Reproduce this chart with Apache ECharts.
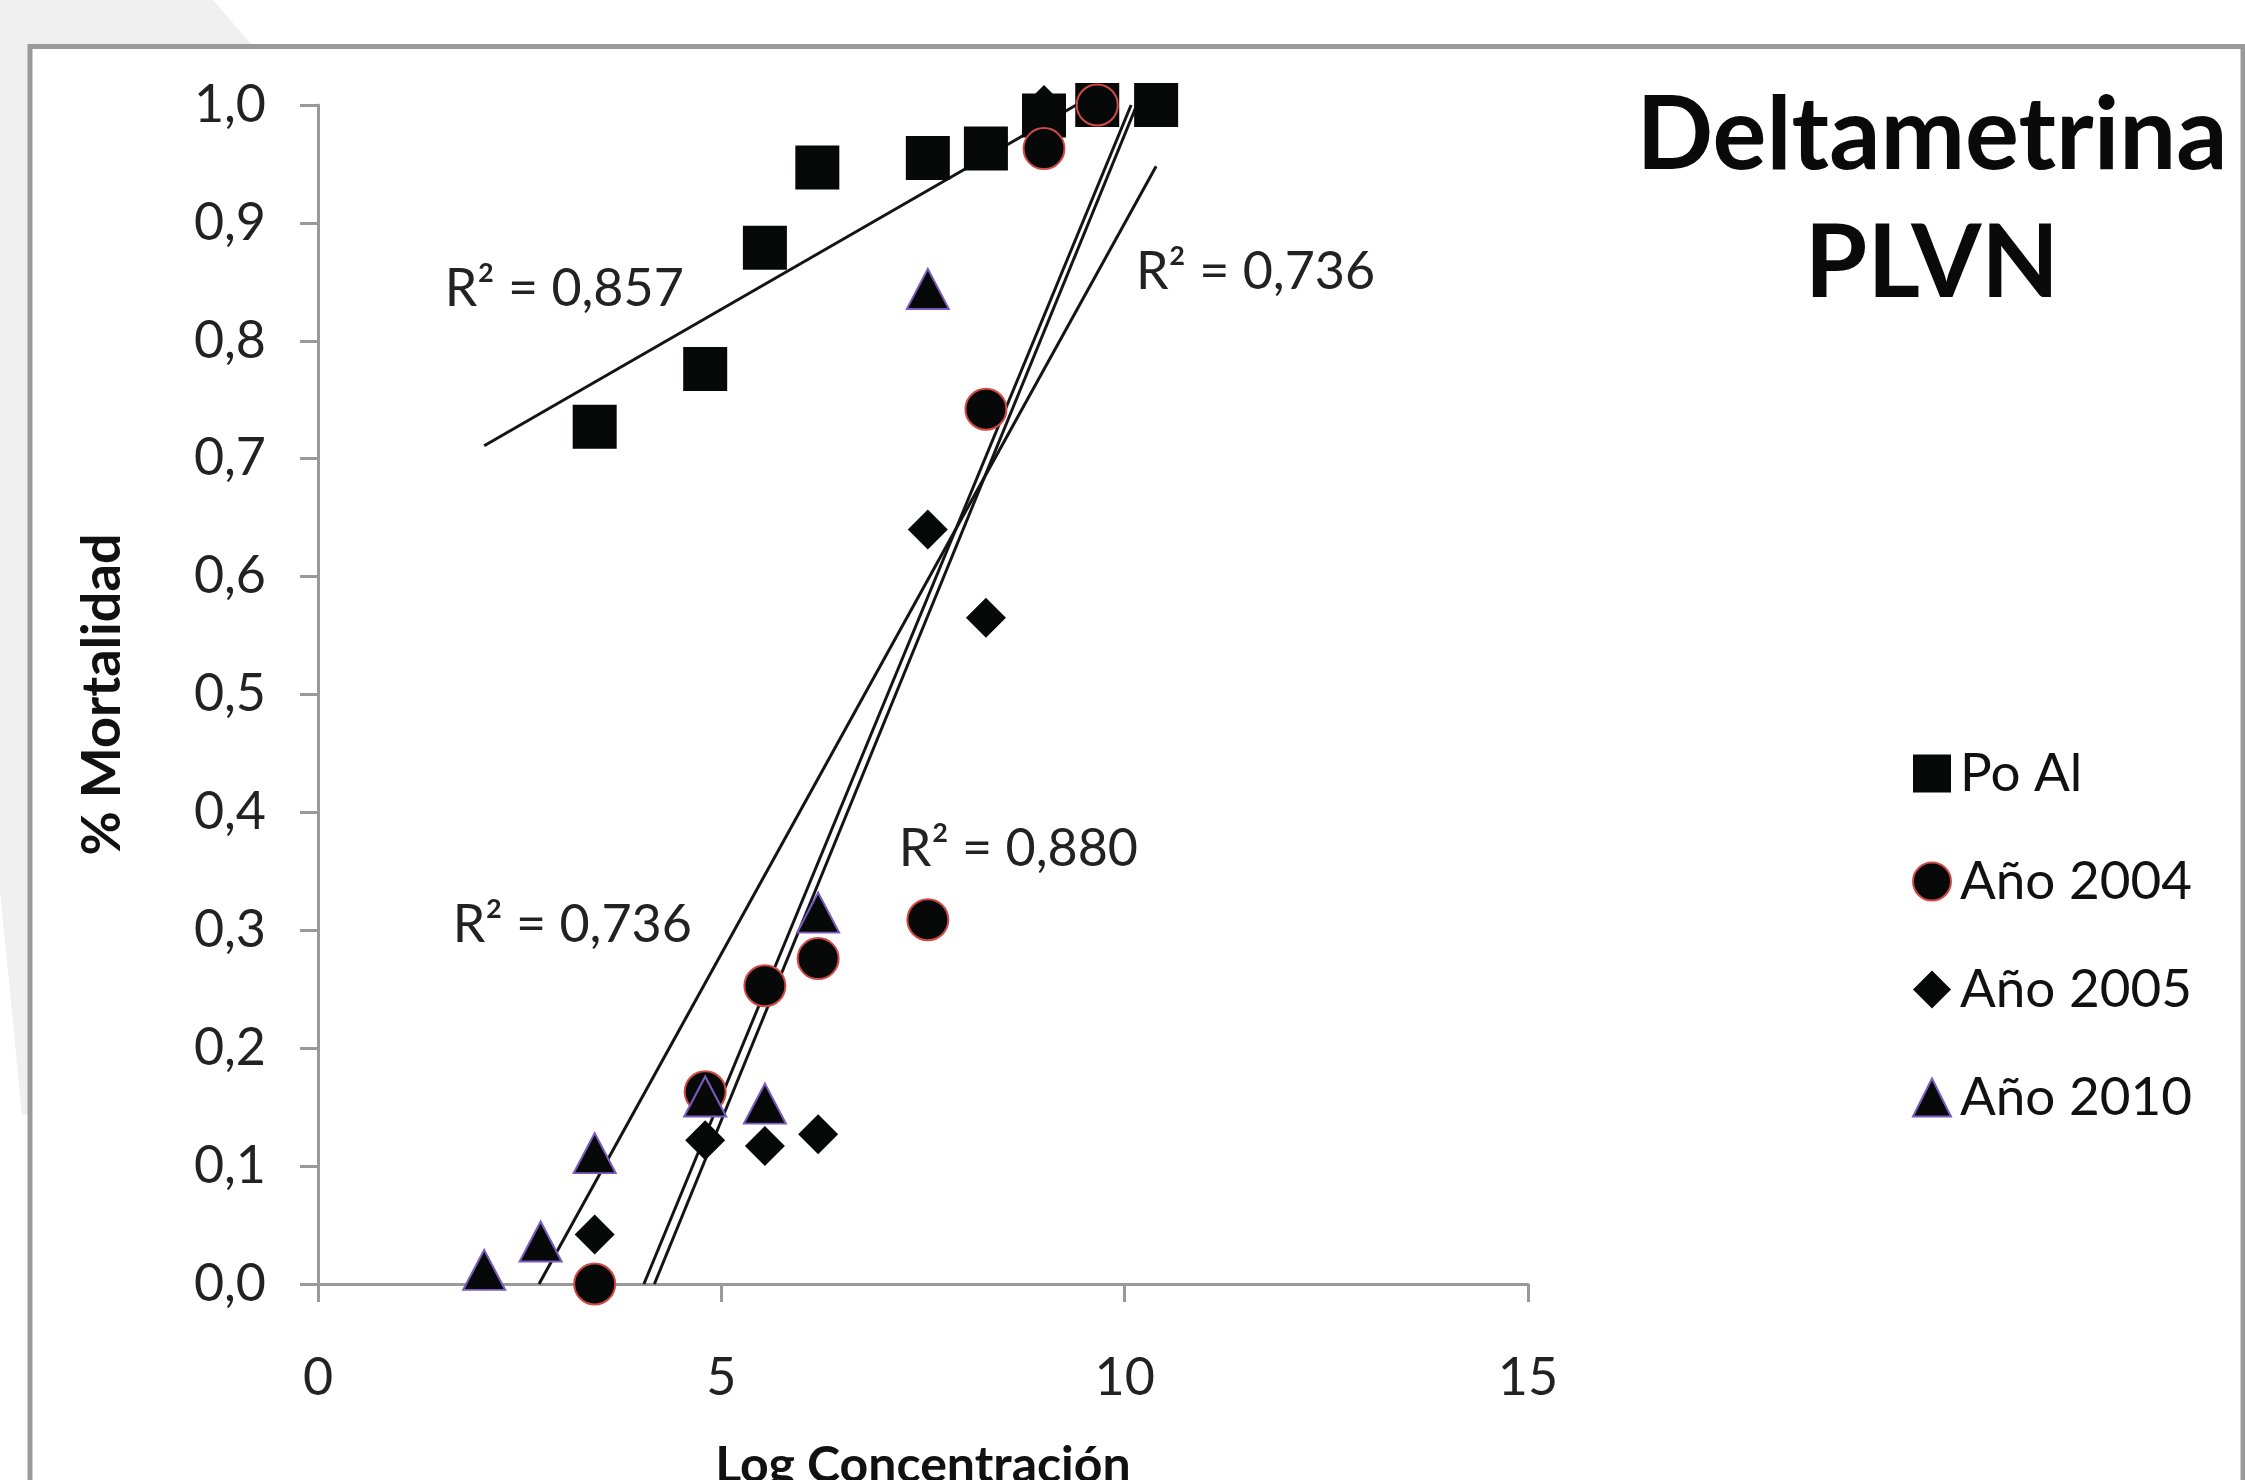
<!DOCTYPE html>
<html>
<head>
<meta charset="utf-8">
<script src="https://cdn.jsdelivr.net/npm/echarts@6/dist/echarts.min.js"></script>
<style>
html,body{margin:0;padding:0;background:#fff;}
#chart{width:2245px;height:1480px;}
</style>
</head>
<body>
<div id="chart"></div>
<script>
// ---- Data ----
const seriesNames = ['Po Al', 'Año 2004', 'Año 2005', 'Año 2010'];

const poAl = [[3.43,0.727],[4.8,0.776],[5.54,0.879],[6.19,0.947],[7.56,0.955],[8.28,0.963],[9.0,0.991],[9.66,1.0],[10.39,1.0]];
const ano2004 = [[3.43,0.0],[4.8,0.163],[5.54,0.253],[6.2,0.276],[7.56,0.309],[8.28,0.742],[9.0,0.963],[9.66,1.0]];
const ano2005 = [[3.43,0.042],[4.8,0.122],[5.54,0.117],[6.2,0.127],[7.56,0.640],[8.28,0.565],[9.0,1.0]];
const ano2010 = [[2.06,0.012],[2.76,0.036],[3.43,0.111],[4.8,0.159],[5.54,0.153],[6.2,0.315],[7.56,0.844]];

// trend line end points (as drawn in the reference)
const trendPoAl = [[2.06,0.711],[9.4,1.0]];
const trend2004 = [[4.04,0.0],[10.08,1.0]];
const trend2005 = [[4.17,0.0],[10.15,1.0]];
const trend2010 = [[2.74,0.0],[10.39,0.948]];

// R² annotations
const r2Texts = ['R² = 0,857', 'R² = 0,736', 'R² = 0,736', 'R² = 0,880'];
const r2Anchors = [[1.57,0.844],[10.14,0.858],[1.67,0.304],[7.2,0.369]];

const xTicks = [0, 5, 10, 15];
const yTicks = [0, 0.1, 0.2, 0.3, 0.4, 0.5, 0.6, 0.7, 0.8, 0.9, 1.0];

const titleLines = ['Deltametrina', 'PLVN'];
const xName = 'Log Concentración';
const yName = '% Mortalidad';

// ---- Chart ----
const FONT = 'Lato, "Open Sans", sans-serif';
const chart = echarts.init(document.getElementById('chart'), null, {renderer: 'canvas'});

const markerFill = '#070908';
const trendStyle = {color: '#141414', width: 3};

function trend(name, data) {
  return {
    name: name, type: 'line', data: data, symbol: 'none', z: 1,
    lineStyle: trendStyle, silent: true, animation: false
  };
}

const option = {
  animation: false,
  backgroundColor: '#ffffff',
  graphic: [
    {
      type: 'polygon', z: -20, silent: true,
      shape: {points: [[0,0],[213,0],[300,100],[300,1000],[26,1115],[22,1115],[0,890]]},
      style: {fill: '#f0f0f0'}
    },
    {
      type: 'rect', z: -19, silent: true,
      shape: {x: 30, y: 46.5, width: 2213, height: 1500},
      style: {fill: '#ffffff', stroke: '#9a9a9a', lineWidth: 5}
    },
    {
      type: 'text', z: 10, silent: true,
      style: {
        text: titleLines.join('\n'), x: 1932, y: 72,
        align: 'center', verticalAlign: 'top',
        font: 'bold 101px ' + FONT, lineHeight: 128, fill: '#0a0a0a'
      }
    }
  ],
  grid: {left: 318, top: 105, width: 1210, height: 1179, containLabel: false, outerBoundsMode: 'none'},
  legend: {
    data: seriesNames,
    orient: 'vertical',
    left: 1907, top: 742,
    itemWidth: 38, itemHeight: 38, itemGap: 55,
    selectedMode: false,
    textStyle: {fontFamily: FONT, fontSize: 53, lineHeight: 53, color: '#111', padding: [0,0,0,4]}
  },
  xAxis: {
    type: 'value', min: 0, max: 15, interval: 5,
    name: xName, nameLocation: 'middle', nameGap: 157,
    nameTextStyle: {fontFamily: FONT, fontWeight: 'bold', fontSize: 50, color: '#111'},
    axisLine: {show: true, onZero: false, lineStyle: {color: '#999', width: 3}},
    axisTick: {show: true, length: 18, inside: false, lineStyle: {color: '#999', width: 3}},
    splitLine: {show: false},
    axisLabel: {
      margin: 68, fontFamily: FONT, fontSize: 52, color: '#222',
      formatter: v => (xTicks.indexOf(v) >= 0 ? String(v) : '')
    }
  },
  yAxis: {
    type: 'value', min: 0, max: 1, interval: 0.1,
    name: yName, nameLocation: 'middle', nameGap: 188, nameRotate: 90,
    nameTextStyle: {fontFamily: FONT, fontWeight: 'bold', fontSize: 54, color: '#111'},
    axisLine: {show: true, onZero: false, lineStyle: {color: '#999', width: 3}},
    axisTick: {show: true, length: 18, inside: false, lineStyle: {color: '#999', width: 3}},
    splitLine: {show: false},
    axisLabel: {
      margin: 52, fontFamily: FONT, fontSize: 52, color: '#222',
      formatter: v => v.toFixed(1).replace('.', ',')
    }
  },
  series: [
    trend('trendPoAl', trendPoAl),
    trend('trend2004', trend2004),
    trend('trend2005', trend2005),
    trend('trend2010', trend2010),
    {
      name: seriesNames[0], type: 'scatter', data: poAl, z: 3,
      symbol: 'rect', symbolSize: 44,
      itemStyle: {color: markerFill, opacity: 1}
    },
    {
      name: seriesNames[1], type: 'scatter', data: ano2004, z: 3,
      symbol: 'circle', symbolSize: 41,
      itemStyle: {color: markerFill, borderColor: '#d24a45', borderWidth: 2, opacity: 1}
    },
    {
      name: seriesNames[2], type: 'scatter', data: ano2005, z: 3,
      symbol: 'diamond', symbolSize: 40,
      itemStyle: {color: markerFill, opacity: 1}
    },
    {
      name: seriesNames[3], type: 'scatter', data: ano2010, z: 3,
      symbol: 'triangle', symbolSize: [42, 40],
      itemStyle: {color: markerFill, borderColor: '#7a5cc0', borderWidth: 2, opacity: 1}
    },
    {
      name: 'r2', type: 'scatter', z: 5, silent: true,
      data: r2Anchors.map((p, i) => ({value: p, label: {formatter: r2Texts[i]}})),
      symbol: 'circle', symbolSize: 1,
      itemStyle: {color: 'rgba(0,0,0,0)', opacity: 1},
      label: {
        show: true, position: 'inside', align: 'left', verticalAlign: 'middle',
        fontFamily: FONT, fontSize: 52, color: '#222', opacity: 1
      }
    }
  ]
};
chart.setOption(option);
</script>
</body>
</html>
